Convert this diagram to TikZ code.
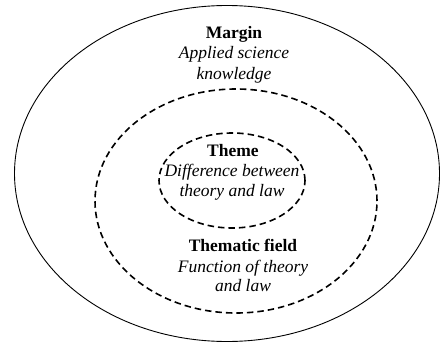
\documentclass[tikz,border=0pt]{standalone}
\usepackage{fontspec}
\setmainfont{Liberation Serif}
\begin{document}
\begin{tikzpicture}[x=1pt,y=1pt,
  ring/.style={draw=black, line width=1.6pt, dash pattern=on 6.5pt off 4pt},
  outer/.style={draw=black, line width=0.9pt},
  ttl/.style={anchor=base, inner sep=0pt, font=\fontsize{17.5}{20}\selectfont\bfseries},
  sub/.style={anchor=base, inner sep=0pt, font=\fontsize{17.5}{20}\selectfont\itshape, text=black}]
\useasboundingbox (0,0) rectangle (441,-345);
\draw[outer] (227,-173.5) ellipse [x radius=212.5, y radius=168];
\draw[ring] (236,-201) ellipse [x radius=141, y radius=112];
\draw[ring] (232,-180.5) ellipse [x radius=73, y radius=47.5];
\node[ttl] (margin) at (234,-39) {Margin};
\node[sub] (m1) at (234,-59) {Applied science};
\node[sub] (m2) at (234,-79) {knowledge};
\node[ttl] (theme) at (233,-156) {Theme};
\node[sub] (t1) at (232,-176) {Difference between};
\node[sub] (t2) at (232,-196) {theory and law};
\node[ttl] (field) at (243,-251) {Thematic field};
\node[sub] (f1) at (243,-272) {Function of theory};
\node[sub] (f2) at (243,-291) {and law};
\end{tikzpicture}
\end{document}
